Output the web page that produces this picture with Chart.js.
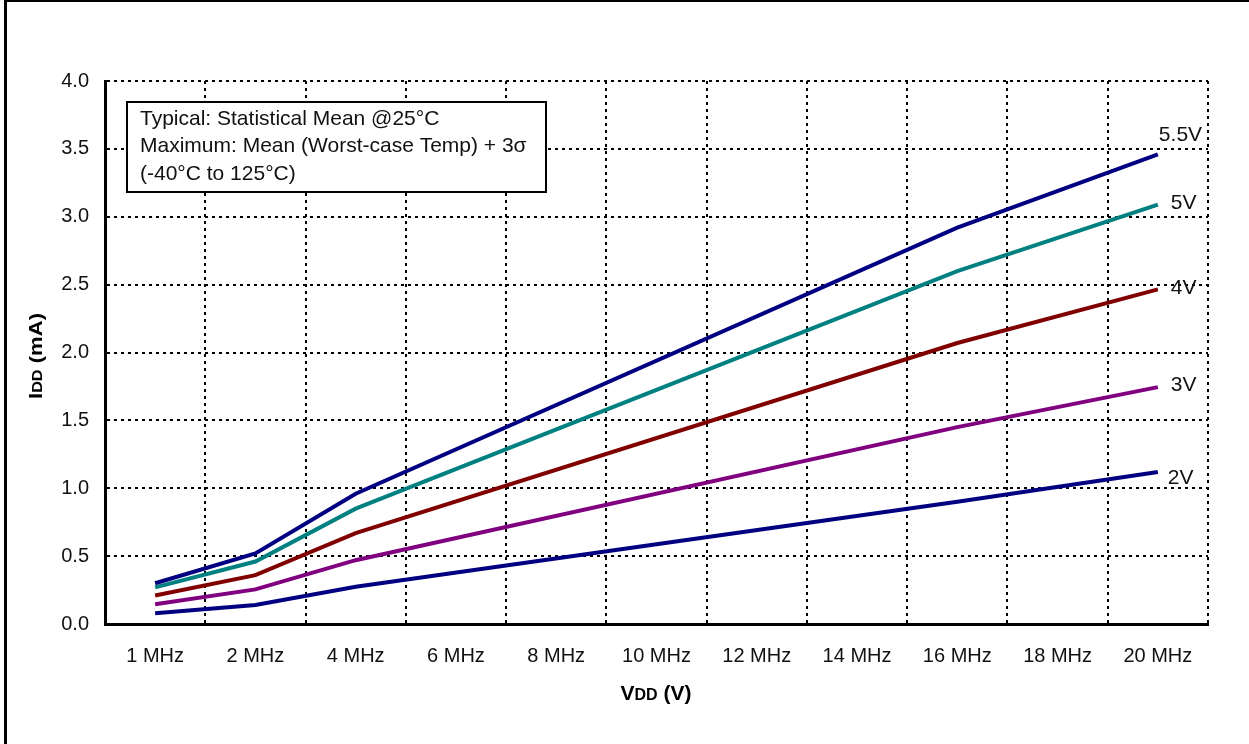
<!DOCTYPE html>
<html lang="en">
<head>
<meta charset="UTF-8">
<title>IDD vs Frequency</title>
<style>
  body { margin: 0; background: #fff; }
  #wrap { position: relative; width: 1249px; height: 744px; }
</style>
</head>
<body>
<div id="wrap"><canvas id="iddChart" width="1249" height="744"></canvas></div>
<script src="https://cdn.jsdelivr.net/npm/chart.js@4.4.0/dist/chart.umd.min.js"></script>
<script>
// x categories
var freqLabels = ['1 MHz', '2 MHz', '4 MHz', '6 MHz', '8 MHz', '10 MHz', '12 MHz', '14 MHz', '16 MHz', '18 MHz', '20 MHz'];

// IDD (mA), points only at 1, 2, 4, 16 and 20 MHz - gaps get spanned
var idd55 = [0.30, 0.52, 0.96, null, null, null, null, null, 2.92, null, 3.46];
var idd50 = [0.27, 0.46, 0.85, null, null, null, null, null, 2.60, null, 3.09];
var idd40 = [0.21, 0.36, 0.67, null, null, null, null, null, 2.07, null, 2.465];
var idd30 = [0.145, 0.255, 0.47, null, null, null, null, null, 1.45, null, 1.745];
var idd20 = [0.08, 0.14, 0.275, null, null, null, null, null, 0.90, null, 1.12];

var seriesNames = ['5.5V', '5V', '4V', '3V', '2V'];
var seriesColors = ['#000080', '#008080', '#800000', '#800080', '#000080'];
// where each voltage tag sits (mA)
var tagValues = [3.60, 3.10, 2.475, 1.76, 1.075];

var yTicks = [0, 0.5, 1.0, 1.5, 2.0, 2.5, 3.0, 3.5, 4.0];

var noteLines = [
    'Typical: Statistical Mean @25\u00B0C',
    'Maximum: Mean (Worst-case Temp) + 3\u03C3',
    '(-40\u00B0C to 125\u00B0C)'
];

var FONT = '"Liberation Sans", Arial, sans-serif';
Chart.defaults.font.family = FONT;
Chart.defaults.color = '#000';

// white page + the black frame on top/left
var framePlugin = {
    id: 'frame',
    beforeDraw: function(chart) {
        var ctx = chart.ctx;
        ctx.save();
        ctx.fillStyle = '#fff';
        ctx.fillRect(0, 0, chart.width, chart.height);
        ctx.fillStyle = '#000';
        ctx.fillRect(4, 0, 3, chart.height);
        ctx.fillRect(4, 0, chart.width - 4, 2);
        ctx.restore();
    }
};

var extrasPlugin = {
    id: 'extras',
    afterDraw: function(chart) {
        var ctx = chart.ctx;
        var ca = chart.chartArea;
        var xs = chart.scales.x;
        var ys = chart.scales.y;
        ctx.save();

        // note box
        var bx = ca.left + 22, by = ca.top + 21;
        ctx.fillStyle = '#fff';
        ctx.fillRect(bx, by, 419, 90);
        ctx.strokeStyle = '#000';
        ctx.lineWidth = 2;
        ctx.strokeRect(bx, by, 419, 90);
        ctx.fillStyle = '#111';
        ctx.font = '21px ' + FONT;
        ctx.textBaseline = 'middle';
        ctx.textAlign = 'left';
        noteLines.forEach(function(t, i) {
            ctx.fillText(t, bx + 13, by + 17 + i * 27.5);
        });

        // voltage tags at the line ends
        var lastX = xs.getPixelForValue(freqLabels.length - 1);
        var dx = [1, 13, 13, 13, 10];
        seriesNames.forEach(function(n, i) {
            ctx.fillText(n, lastX + dx[i], ys.getPixelForValue(tagValues[i]));
        });

        // x title: VDD (V)
        ctx.fillStyle = '#000';
        var parts = [['V', 'bold 21px '], ['DD', 'bold 16px '], [' (V)', 'bold 21px ']];
        var w = 0;
        parts.forEach(function(p) { ctx.font = p[1] + FONT; w += ctx.measureText(p[0]).width; });
        var x = 656 - w / 2;
        ctx.textBaseline = 'alphabetic';
        parts.forEach(function(p) {
            ctx.font = p[1] + FONT;
            ctx.fillText(p[0], x, 700);
            x += ctx.measureText(p[0]).width;
        });

        // y title: IDD (mA), rotated
        var yparts = [['I', 'bold 19px '], ['DD', 'bold 14px '], [' (mA)', 'bold 19px ']];
        w = 0;
        yparts.forEach(function(p) { ctx.font = p[1] + FONT; w += ctx.measureText(p[0]).width; });
        ctx.translate(42, 356);
        ctx.rotate(-Math.PI / 2);
        ctx.scale(86 / w, 1);
        x = -w / 2;
        yparts.forEach(function(p) {
            ctx.font = p[1] + FONT;
            ctx.fillText(p[0], x, 0);
            x += ctx.measureText(p[0]).width;
        });
        ctx.restore();
    }
};

function mkSet(i, data) {
    return {
        label: seriesNames[i],
        data: data,
        borderColor: seriesColors[i],
        backgroundColor: seriesColors[i],
        borderWidth: 4,
        pointRadius: 0,
        tension: 0,
        spanGaps: true,
        fill: false
    };
}

var ctx = document.getElementById('iddChart').getContext('2d');
var iddChart = new Chart(ctx, {
    type: 'line',
    data: {
        labels: freqLabels,
        datasets: [mkSet(0, idd55), mkSet(1, idd50), mkSet(2, idd40), mkSet(3, idd30), mkSet(4, idd20)]
    },
    options: {
        responsive: false,
        animation: false,
        devicePixelRatio: 1,
        layout: { padding: { top: 81, right: 41, left: 0, bottom: 0 } },
        plugins: { legend: { display: false }, tooltip: { enabled: false } },
        scales: {
            x: {
                offset: true,
                grid: { color: '#000', lineWidth: 2, drawTicks: false, offset: true },
                border: { color: '#000', width: 3, dash: [3, 4] },
                ticks: { font: { size: 20 }, color: '#111', padding: 20, maxRotation: 0, autoSkip: false },
                afterFit: function(s) { s.height = 120; }
            },
            y: {
                min: 0,
                max: 4,
                afterBuildTicks: function(s) { s.ticks = yTicks.map(function(v) { return { value: v }; }); },
                grid: { color: '#000', lineWidth: 2, drawTicks: false },
                border: { color: '#000', width: 3, dash: [3, 4] },
                ticks: {
                    font: { size: 20 }, color: '#111', padding: 16,
                    callback: function(v) { return Number(v).toFixed(1); }
                },
                afterFit: function(s) { s.width = 105; }
            }
        }
    },
    plugins: [framePlugin, extrasPlugin]
});
</script>
</body>
</html>
